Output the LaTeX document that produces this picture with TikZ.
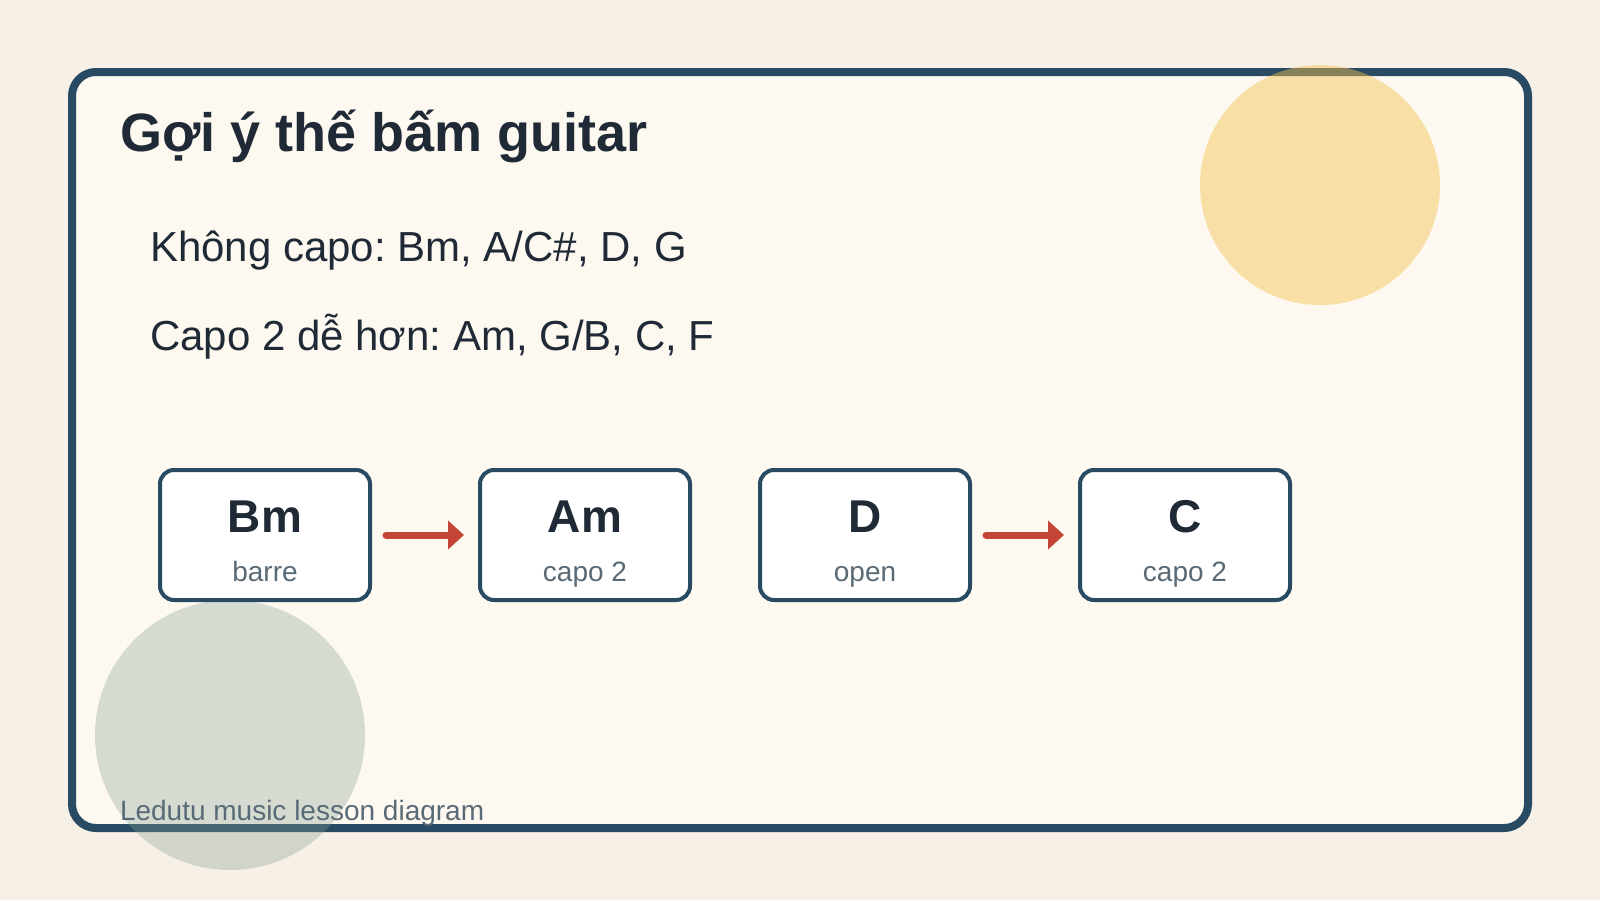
\documentclass[tikz,border=0pt]{standalone}
\usepackage{fontspec}
\setmainfont{Liberation Sans}
\frenchspacing
\usetikzlibrary{arrows.meta,positioning}
\definecolor{paper}{HTML}{F7F0E6}
\definecolor{panel}{HTML}{FDF9F1}
\definecolor{navy}{HTML}{284B63}
\definecolor{ink}{HTML}{1F2A36}
\definecolor{muted}{HTML}{596A77}
\definecolor{sun}{HTML}{F2C14E}
\definecolor{sage}{HTML}{869E90}
\definecolor{accent}{HTML}{C44536}
\tikzset{
  >=Latex,
  every node/.style={text=ink,inner sep=0pt,outer sep=0pt},
  frame/.style={draw=navy,line width=4pt,fill=panel,rounded corners=12pt},
  chord/.style={draw=navy,line width=2pt,fill=white,rounded corners=7pt,minimum width=105pt,minimum height=65pt},
  chordname/.style={font=\fontsize{23}{27}\selectfont\bfseries,anchor=base},
  chordnote/.style={font=\fontsize{14}{17}\selectfont,text=muted,anchor=base},
  heading/.style={font=\fontsize{27}{32}\selectfont\bfseries,anchor=base west},
  bodyline/.style={font=\fontsize{21}{25}\selectfont,anchor=base west},
  credit/.style={font=\fontsize{14}{17}\selectfont,text=muted,anchor=base west},
  move/.style={-{Triangle[length=8pt,width=14pt]},line width=3.5pt,draw=accent,line cap=round,shorten <=8pt,shorten >=8pt},
}

\begin{document}
\begin{tikzpicture}[x=0.5pt,y=-0.5pt]

% page and card
\fill[paper] (0,0) rectangle (1600,900);
\draw[frame] (72,72) rectangle (1528,828);
\fill[sun,opacity=0.46] (1320,185) circle[radius=120];
\fill[sage,opacity=0.33] (230,735) circle[radius=135];

\node[heading] (title) at (120,151) {Gợi ý thế bấm guitar};
\node[bodyline] (nocapo) at (150,261) {Không capo: Bm, A/C\#, D, G};
\node[bodyline] (capotwo) at (150,350) {Capo 2 dễ hơn: Am, G/B, C, F};

% chord boxes
\node[chord] (bm) at (265,535) {};
\node[chord,right=55pt of bm] (am) {};
\node[chord,right=35pt of am] (dchord) {};
\node[chord,right=55pt of dchord] (cchord) {};

\node[chordname] (bmname) at ([yshift=1.5pt]bm.center) {Bm};
\node[chordnote] (bmnote) at ([yshift=-23pt]bm.center) {barre};
\node[chordname] (amname) at ([yshift=1.5pt]am.center) {Am};
\node[chordnote] (amnote) at ([yshift=-23pt]am.center) {capo 2};
\node[chordname] (dname) at ([yshift=1.5pt]dchord.center) {D};
\node[chordnote] (dnote) at ([yshift=-23pt]dchord.center) {open};
\node[chordname] (cname) at ([yshift=1.5pt]cchord.center) {C};
\node[chordnote] (cnote) at ([yshift=-23pt]cchord.center) {capo 2};

\draw[move] (bm.east) -- (am.west);
\draw[move] (dchord.east) -- (cchord.west);

\node[credit] (footer) at (120,820) {Ledutu music lesson diagram};

\end{tikzpicture}
\end{document}
